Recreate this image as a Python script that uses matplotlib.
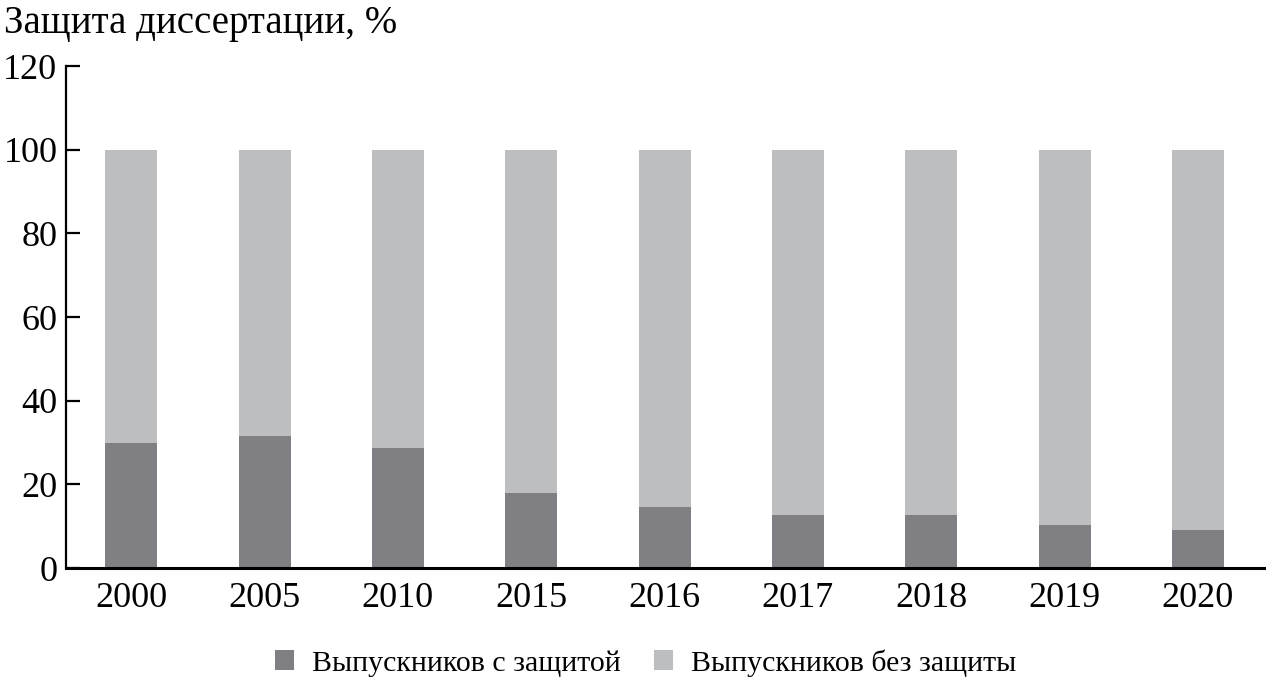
import matplotlib.pyplot as plt
import numpy as np

plt.rcParams['font.family'] = ['Liberation Serif', 'DejaVu Serif']

years = ['2000', '2005', '2010', '2015', '2016', '2017', '2018', '2019', '2020']
with_defense = [30.0, 31.5, 28.8, 18.0, 14.5, 12.8, 12.6, 10.4, 9.0]
without_defense = [100 - v for v in with_defense]

dark = '#808084'
light = '#bdbec0'


def main():
    fig = plt.figure(figsize=(12.66, 6.82), dpi=100)
    ax = fig.add_axes([0.052, 0.167, 0.948, 0.736])

    x = np.arange(len(years))
    w = 0.39
    ax.bar(x, with_defense, w, color=dark, label='Выпускников с защитой')
    ax.bar(x, without_defense, w, bottom=with_defense, color=light,
           label='Выпускников без защиты')

    ax.set_xlim(-0.49, 8.51)
    ax.set_ylim(0, 120)
    ax.set_yticks(range(0, 121, 20))
    ax.set_xticks(x)
    ax.set_xticklabels(years)

    for s in ['top', 'right']:
        ax.spines[s].set_visible(False)
    ax.spines['left'].set_linewidth(1.6)
    ax.spines['bottom'].set_linewidth(2.2)
    ax.tick_params(axis='y', direction='in', length=10, width=1.6,
                   labelsize=26, pad=6)
    ax.tick_params(axis='x', length=0, labelsize=26, pad=10)

    fig.text(0.003, 0.965, 'Защита диссертации, %', fontsize=28, va='center')

    handles, labels = ax.get_legend_handles_labels()
    fig.legend(handles, labels, loc='center', bbox_to_anchor=(0.51, 0.028),
               ncol=2, frameon=False, fontsize=21.5, handlelength=0.65,
               handleheight=0.65, handletextpad=0.6, columnspacing=1.1)

    fig.savefig('out.png', dpi=100)


if __name__ == '__main__':
    main()
